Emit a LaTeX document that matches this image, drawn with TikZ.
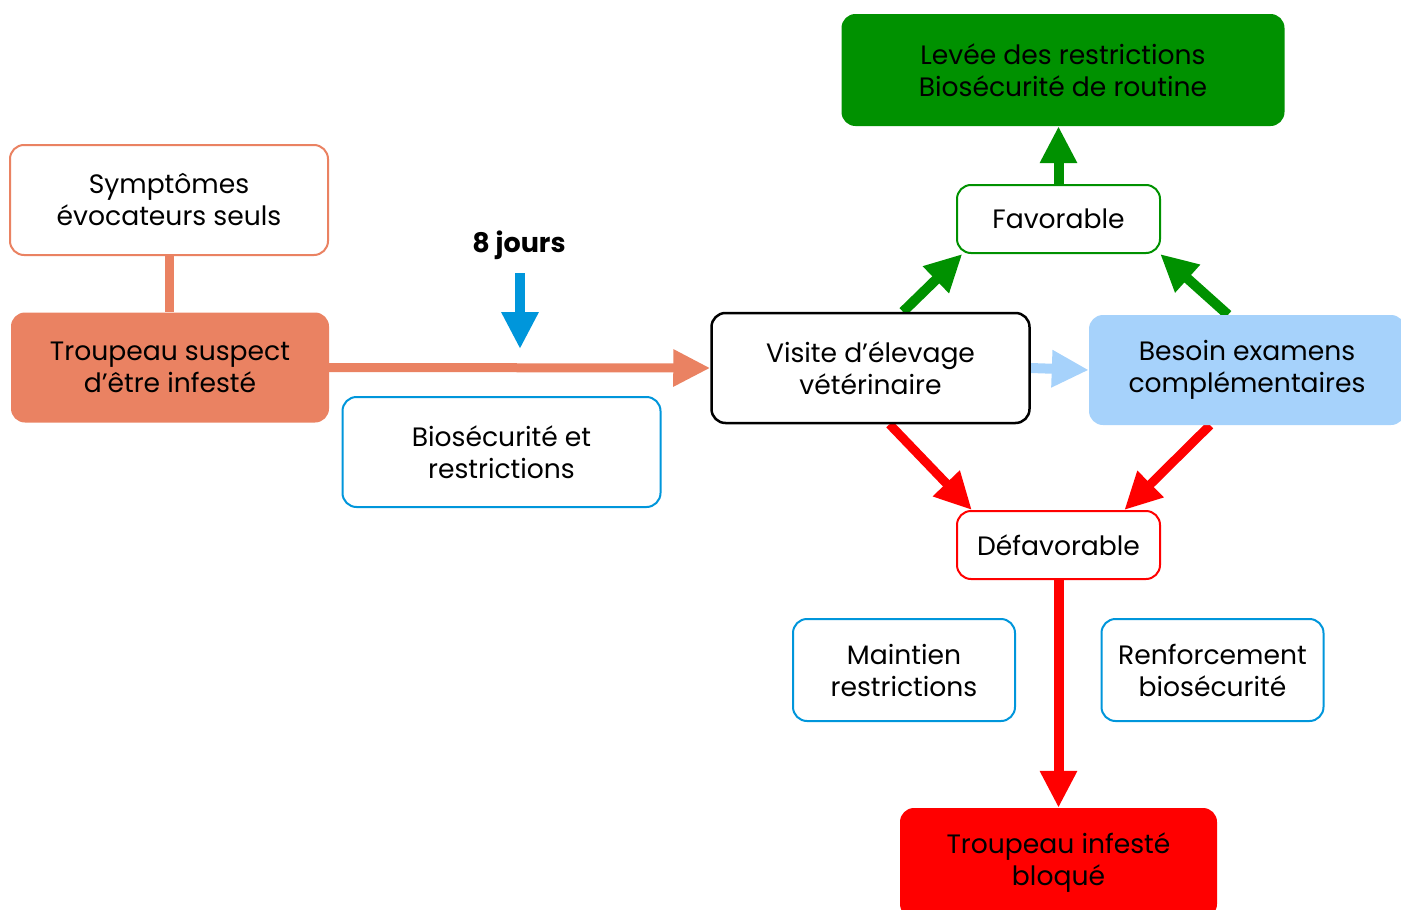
\documentclass[tikz,border=0pt]{standalone}
\usepackage{fontspec}
\setmainfont{Poppins}
\usetikzlibrary{arrows.meta,calc}
\definecolor{coral}{RGB}{234,130,98}
\definecolor{bluebd}{RGB}{0,150,219}
\definecolor{lightblue}{RGB}{166,210,251}
\definecolor{grn}{RGB}{0,145,0}
\definecolor{rd}{RGB}{255,0,0}
\pgfdeclarelayer{bg}
\pgfsetlayers{bg,main}
\begin{document}
\begin{tikzpicture}[x=1pt,y=-1pt,
 box/.style={rounded corners=14pt, align=center, inner sep=0pt, font=\fontsize{26.6}{32}\selectfont, text=black},
 bigbox/.style={box, minimum width=318pt, minimum height=110pt},
 smallbox/.style={box, minimum width=203pt, minimum height=68pt, line width=2pt, fill=white},
 midbox/.style={box, minimum width=222pt, minimum height=102pt, line width=2pt, draw=bluebd, fill=white},
 arr/.style={line width=10pt, -{Triangle[length=37pt,width=35pt]}},
]
\useasboundingbox (0,0) rectangle (1401,910);
\node[bigbox, draw=coral, line width=2pt, fill=white] (sympt) at (169,200) {Symptômes\\évocateurs seuls};
\node[bigbox, fill=coral] (suspect) at (170,367.5) {Troupeau suspect\\d’être infesté};
\node[bigbox, draw=bluebd, line width=2pt, fill=white] (bio) at (501.5,452) {Biosécurité et\\restrictions};
\node[bigbox, draw=black, line width=2.5pt, fill=white] (visite) at (870.5,368) {Visite d’élevage\\vétérinaire};
\node[box, fill=lightblue, minimum width=316pt, minimum height=110pt] (besoin) at (1247,370) {Besoin examens\\complémentaires};
\node[smallbox, draw=grn] (fav) at (1058.5,219) {Favorable};
\node[box, fill=grn, minimum width=443pt, minimum height=112pt] (levee) at (1063,70) {Levée des restrictions\\Biosécurité de routine};
\node[smallbox, draw=rd] (defav) at (1058.5,545) {Défavorable};
\node[midbox] (maintien) at (904,670) {Maintien\\restrictions};
\node[midbox] (renf) at (1212.5,670) {Renforcement\\biosécurité};
\node[box, fill=rd, minimum width=317pt, minimum height=110pt] (infeste) at (1058.5,863) {Troupeau infesté\\bloqué};
\node[font=\fontsize{27}{32}\bfseries\selectfont, inner sep=0pt] (jours) at (519,245) {8 jours};
\coordinate (bstart) at (520,273);
\coordinate (bend) at (520,349);
\begin{pgfonlayer}{bg}
\draw[coral, line width=9pt] (sympt.south) -- (sympt.south |- suspect.north);
\draw[arr, coral, line width=9pt] (suspect.east) -- (visite.west);
\draw[arr, bluebd] (bstart) -- (bend);
\draw[arr, lightblue] (visite.east) -- (besoin.west);
\draw[arr, grn] (fav.north) -- (fav.north |- levee.south);
\draw[arr, grn] (visite.60) -- (fav.200);
\draw[arr, grn] ([xshift=-19pt]besoin.north) -- (fav.-19);
\draw[arr, rd, line width=9pt] ([xshift=19pt]visite.south) -- (defav.158);
\draw[arr, rd, line width=9pt] ([xshift=-37pt]besoin.south) -- (defav.28);
\draw[arr, rd] (defav.south) -- (infeste.north);
\end{pgfonlayer}
\end{tikzpicture}
\end{document}
